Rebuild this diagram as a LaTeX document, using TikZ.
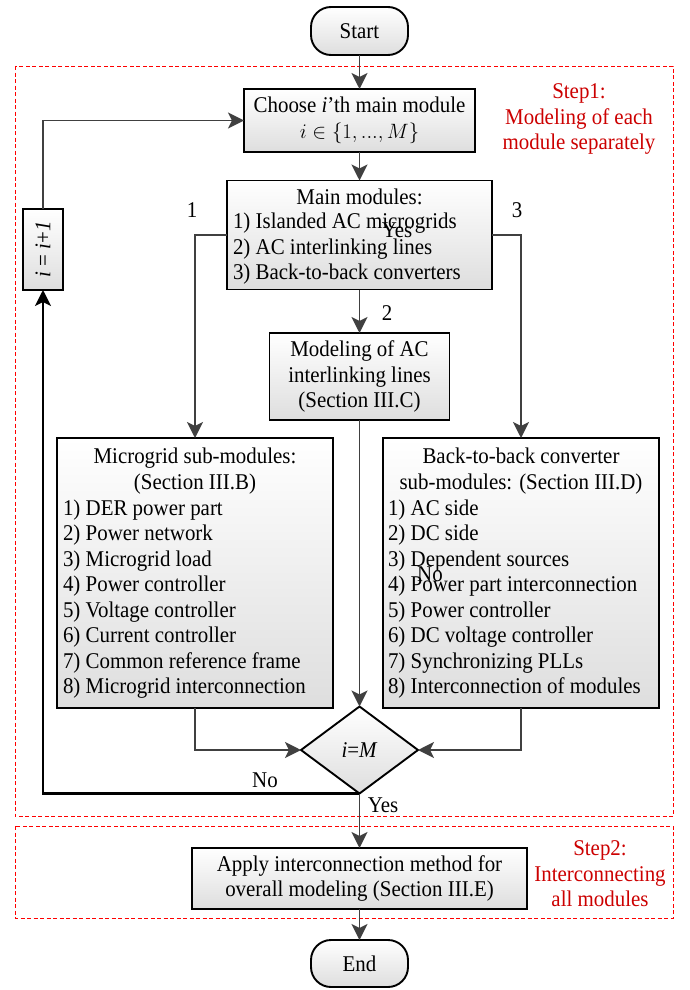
\documentclass[tikz,border=0pt]{standalone}
\usepackage{fontspec}
\setmainfont[FakeStretch=0.93]{Liberation Serif}
\usetikzlibrary{shapes.geometric,arrows.meta}
\definecolor{lgray}{HTML}{404040}
\definecolor{stepred}{HTML}{CC0000}
\begin{document}
\begin{tikzpicture}[x=1pt,y=-1pt,
  every node/.style={font=\fontsize{22.5}{25.5}\selectfont, inner sep=0pt, outer sep=0pt},
  box/.style={draw=black, line width=1.9pt, top color=white, bottom color=black!13, rectangle, align=center},
  term/.style={box, rounded corners=20pt},
  flow/.style={draw=lgray, line width=1.9pt, -{Stealth[length=16pt,width=16pt,inset=4pt]}},
  backflow/.style={draw=black, line width=2.3pt, -{Stealth[length=16pt,width=16pt,inset=4pt]}},
  stepbox/.style={draw=red, line width=0.8pt, dash pattern=on 4pt off 2.5pt},
  steptext/.style={text=stepred, align=center},
  lbl/.style={}]
\useasboundingbox (0,0) rectangle (689,990);

% step frames
\draw[stepbox] (15,66) rectangle (673,816);
\draw[stepbox] (15,826) rectangle (673,918);

% nodes
\node[term, minimum width=97pt, minimum height=48pt] (start) at (359.5,31) {Start};
\node[box, minimum width=231pt, minimum height=63pt] (choose) at (359.5,120.5)
  {Choose \textit{i}'th main module\\$i\in\big\{1,...,M\big\}$};
\node[box, minimum width=265pt, minimum height=109pt] (main) at (359.5,235) {};
\node (mainhead) at (359.5,197) {Main modules:};
\node[anchor=west, align=left] (mainitems) at (233,249)
  {1) Islanded AC microgrids\\2) AC interlinking lines\\3) Back-to-back converters};
\node (strayyes) at (397,230) {Yes};
\node[box, minimum width=180pt, minimum height=87pt] (ac) at (359.5,376.5)
  {Modeling of AC\\interlinking lines\\(Section III.C)};
\node[box, minimum width=276pt, minimum height=270pt] (mg) at (195,573) {};
\node[align=center] (mghead) at (195,471) {Microgrid sub-modules:\\(Section III.B)};
\node[anchor=west, align=left] (mgitems) at (63,599)
  {1) DER power part\\2) Power network\\3) Microgrid load\\4) Power controller\\5) Voltage controller\\6) Current controller\\7) Common reference frame\\8) Microgrid interconnection};
\node[box, minimum width=276pt, minimum height=270pt] (b2b) at (521,573) {};
\node[align=center] (b2bhead) at (521,471) {Back-to-back converter\\sub-modules: (Section III.D)};
\node[anchor=west, align=left] (b2bitems) at (388,599)
  {1) AC side\\2) DC side\\3) Dependent sources\\4) Power part interconnection\\5) Power controller\\6) DC voltage controller\\7) Synchronizing PLLs\\8) Interconnection of modules};
\node (strayno) at (430,574) {No};
\node[diamond, draw=black, line width=1.9pt, top color=white, bottom color=black!13,
  minimum width=117pt, minimum height=87pt, aspect=1.345] (dia) at (359.5,750) {\textit{i}=\textit{M}};
\node[box, minimum width=40pt, minimum height=81pt] (inc) at (43,249.5) {};
\node[rotate=90] (inctext) at (43,249.5) {\textit{i} = \textit{i}+\textit{1}};
\node[box, minimum width=335pt, minimum height=61pt] (apply) at (359.5,878.5)
  {Apply interconnection method for\\overall modeling (Section III.E)};
\node[term, minimum width=97pt, minimum height=47pt] (end) at (359.5,963.5) {End};

% step texts
\node[steptext] (step1) at (579,119) {Step1:\\Modeling of each\\module separately};
\node[steptext] (step2) at (600,874) {Step2:\\Interconnecting\\all modules};

% connectors
\draw[flow] (start) -- (choose);
\draw[flow] (choose) -- (main);
\draw[flow] (main) -- (ac);
\draw[flow] (main.west) -| (mg.north);
\draw[flow] (main.east) -| (b2b.north);
\draw[flow] (ac) -- (dia);
\draw[flow] (mg.south) |- (dia.west);
\draw[flow] (b2b.south) |- (dia.east);
\draw[backflow] (dia.south) -| (inc.south);
\draw[flow] (inc.north) |- (choose.west);
\draw[flow] (dia.south) -- (apply.north);
\draw[flow] (apply) -- (end);

% labels
\node[lbl] (l1) at (192,210) {1};
\node[lbl] (l2) at (387,313) {2};
\node[lbl] (l3) at (517,210) {3};
\node[lbl] (lno) at (265,780) {No};
\node[lbl] (lyes) at (383,805) {Yes};
\end{tikzpicture}
\end{document}
